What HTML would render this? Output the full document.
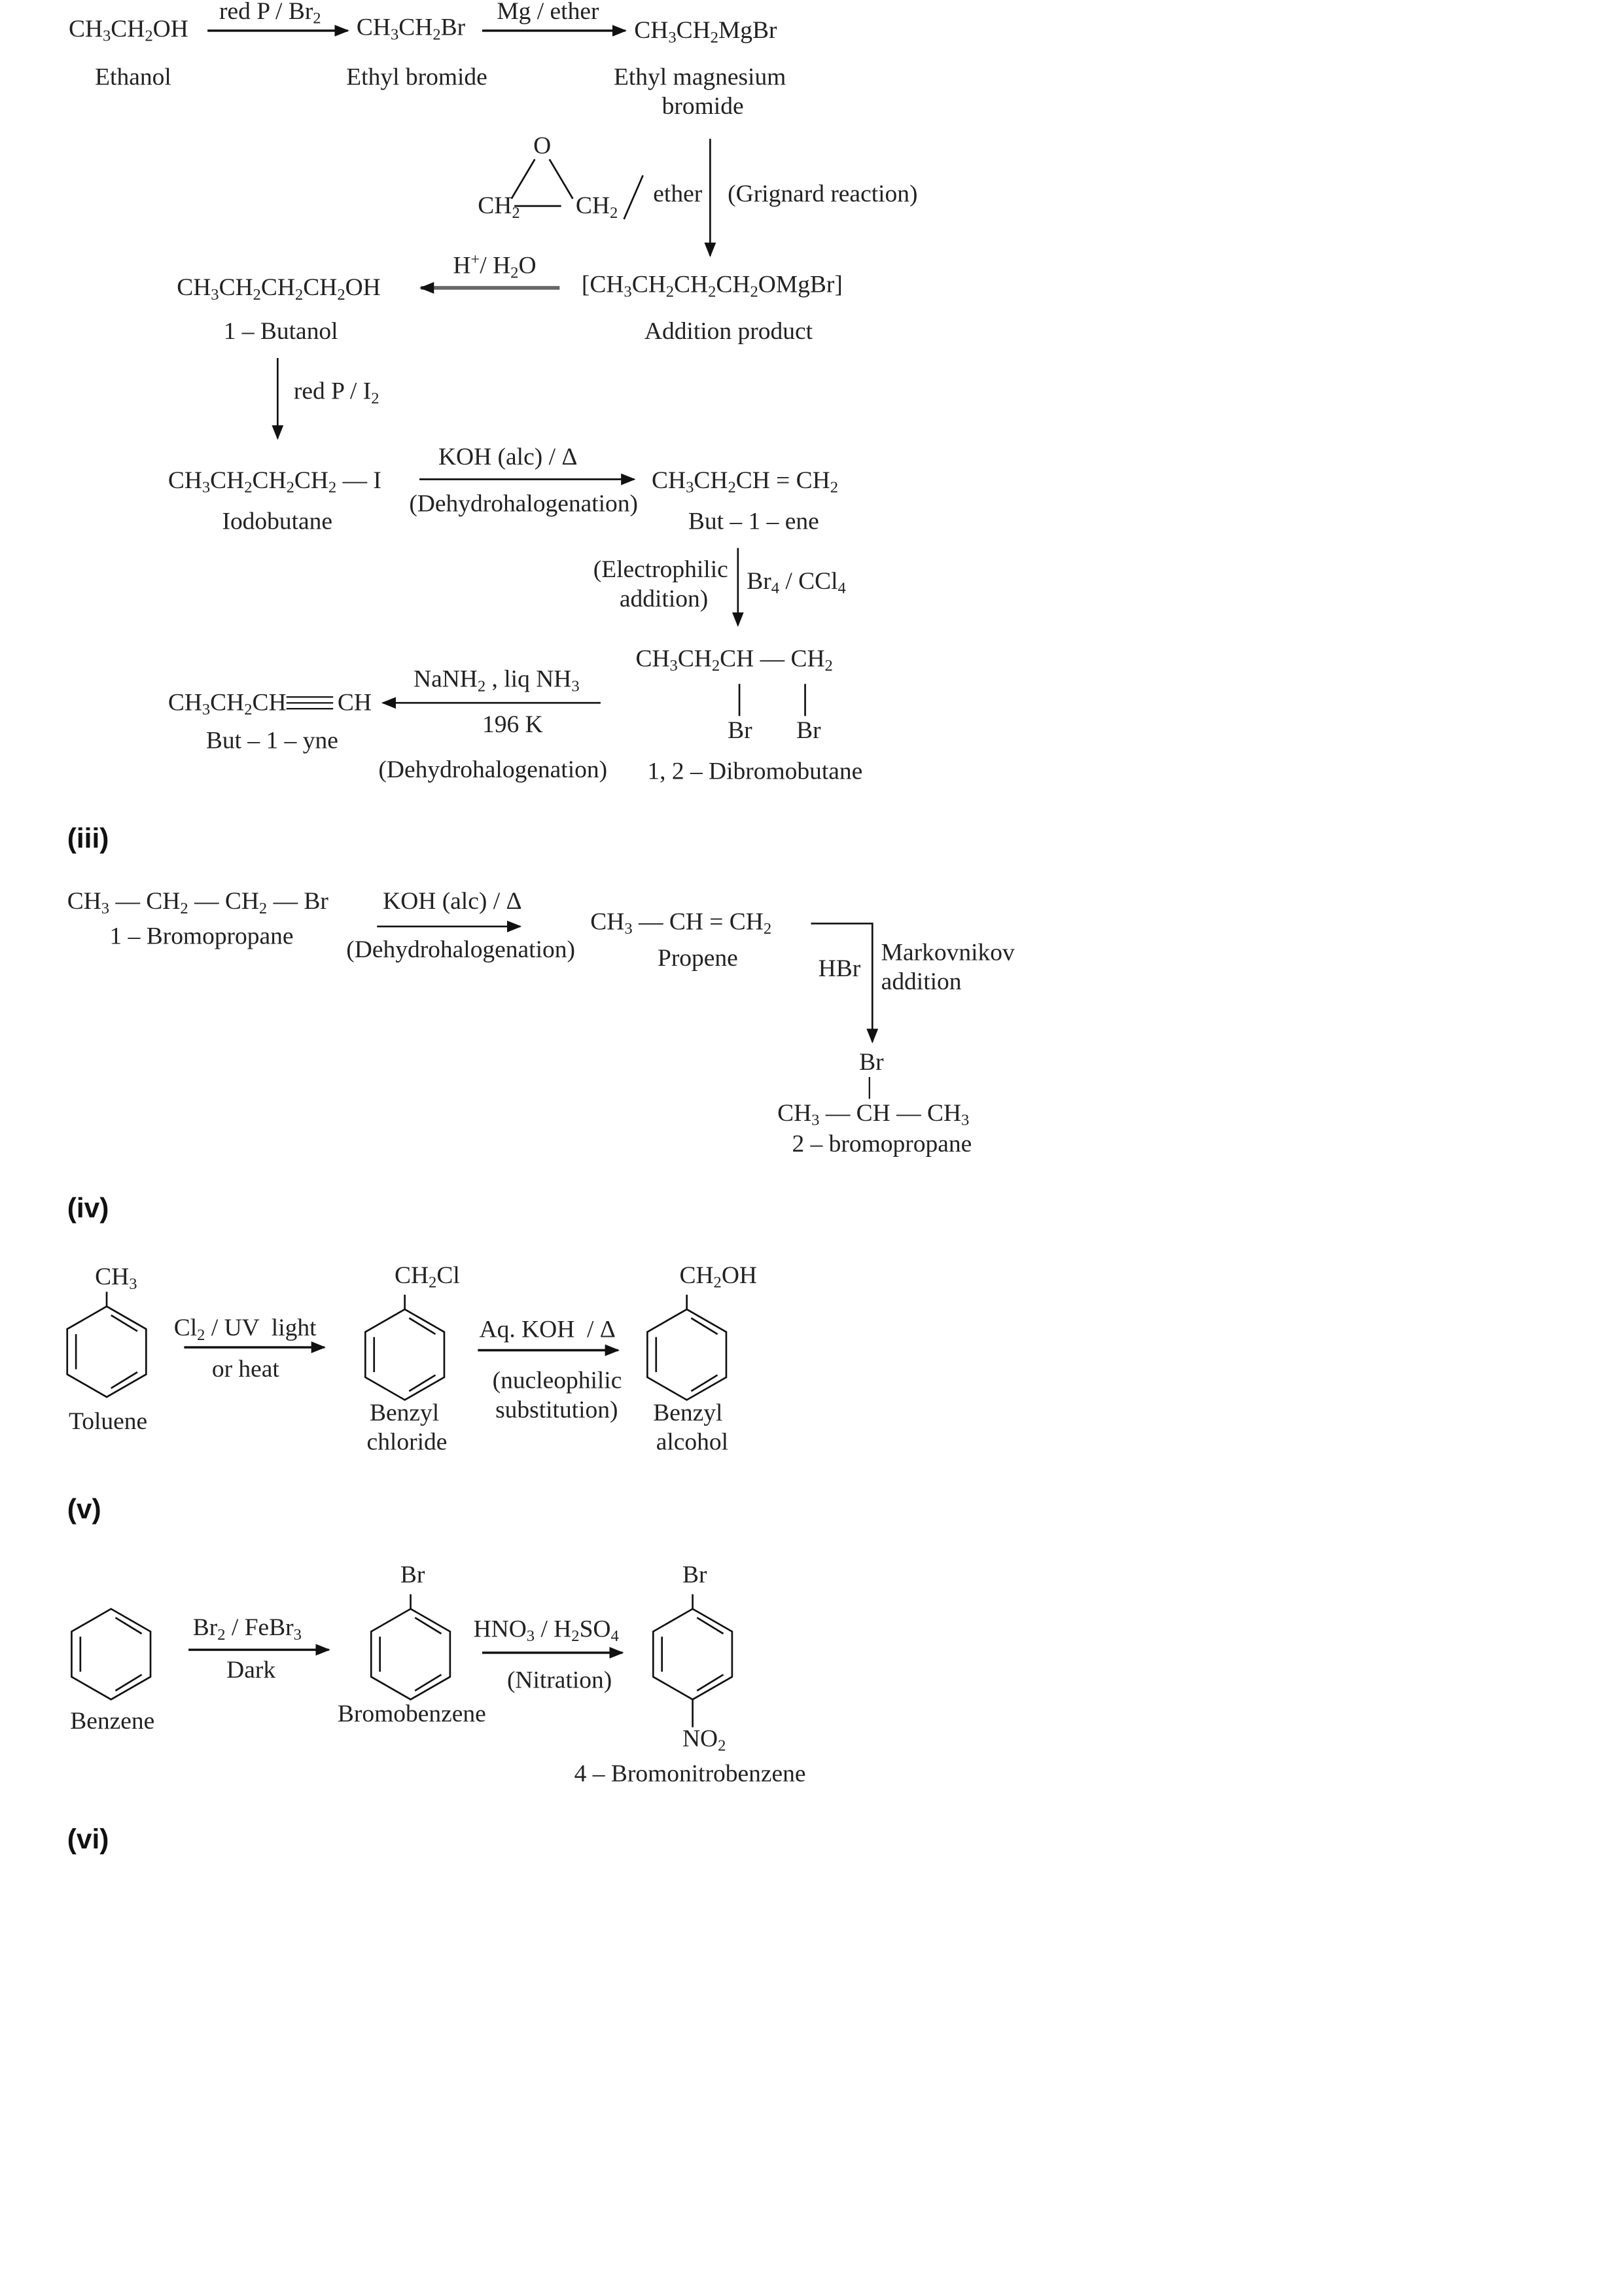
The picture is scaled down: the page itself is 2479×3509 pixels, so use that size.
<!DOCTYPE html>
<html><head><meta charset="utf-8">
<style>
html,body{margin:0;padding:0;background:#fff;}
body{width:2479px;height:3508px;overflow:hidden;}
#w{position:absolute;left:0;top:0;width:1110px;height:1571px;transform:scale(2.2333);transform-origin:0 0;}
.t{position:absolute;font-family:"Liberation Serif",serif;font-size:16.8px;line-height:1;color:#222;white-space:nowrap;margin-top:-1px;}
.t sub{font-size:11px;vertical-align:-3px;line-height:0;}
.t sup{font-size:11px;vertical-align:6px;line-height:0;}
.h{position:absolute;font-family:"Liberation Sans",sans-serif;font-weight:bold;font-size:19px;line-height:1;color:#111;}
svg{position:absolute;left:0;top:0;}
</style></head><body><div id="w">
<svg width="1110" height="1571" viewBox="0 0 1110 1571">
<defs><marker id="a" markerWidth="10" markerHeight="8" refX="9" refY="4" orient="auto" markerUnits="userSpaceOnUse"><path d="M0,0 L10,4 L0,8 z" fill="#111"/></marker></defs>
<g stroke="#111" stroke-width="1.6" fill="none">
<line x1="142" y1="21" x2="238" y2="21" marker-end="url(#a)"/>
<line x1="330" y1="21" x2="428" y2="21" marker-end="url(#a)"/>
<line x1="486" y1="95" x2="486" y2="175" stroke-width="1.2" marker-end="url(#a)"/>
<line x1="366" y1="109" x2="350" y2="136" stroke-width="1.2"/>
<line x1="376" y1="109" x2="392" y2="136" stroke-width="1.2"/>
<line x1="352" y1="141" x2="384" y2="141" stroke-width="1.2"/>
<line x1="440" y1="120" x2="427" y2="150" stroke-width="1.2"/>
<line x1="383" y1="197" x2="288" y2="197" stroke="#666" stroke-width="2.5" marker-end="url(#a)"/>
<line x1="190" y1="245" x2="190" y2="300" stroke-width="1.2" marker-end="url(#a)"/>
<line x1="287" y1="328" x2="434" y2="328" stroke-width="1.2" marker-end="url(#a)"/>
<line x1="505" y1="375" x2="505" y2="428" stroke-width="1.2" marker-end="url(#a)"/>
<line x1="506" y1="468" x2="506" y2="490" stroke-width="1.2"/>
<line x1="551" y1="468" x2="551" y2="490" stroke-width="1.2"/>
<line x1="411" y1="481" x2="262" y2="481" stroke-width="1.2" marker-end="url(#a)"/>
<line x1="196" y1="477" x2="228" y2="477" stroke-width="1"/>
<line x1="196" y1="481" x2="228" y2="481" stroke-width="1"/>
<line x1="196" y1="485" x2="228" y2="485" stroke-width="1"/>
<line x1="258" y1="634" x2="356" y2="634" stroke-width="1.2" marker-end="url(#a)"/>
<polyline points="555,632 597,632 597,713" stroke-width="1.2" marker-end="url(#a)"/>
<line x1="595" y1="737" x2="595" y2="752" stroke-width="1"/>
<line x1="73" y1="884" x2="73" y2="894" stroke-width="1.2"/>
<line x1="277" y1="886" x2="277" y2="896" stroke-width="1.2"/>
<line x1="470" y1="886" x2="470" y2="896" stroke-width="1.2"/>
<line x1="126" y1="922" x2="222" y2="922" stroke-width="1.6" marker-end="url(#a)"/>
<line x1="327" y1="924" x2="423" y2="924" stroke-width="1.6" marker-end="url(#a)"/>
<line x1="129" y1="1129" x2="225" y2="1129" stroke-width="1.6" marker-end="url(#a)"/>
<line x1="330" y1="1131" x2="426" y2="1131" stroke-width="1.6" marker-end="url(#a)"/>
<line x1="281" y1="1091" x2="281" y2="1101" stroke-width="1.2"/>
<line x1="474" y1="1091" x2="474" y2="1101" stroke-width="1.2"/>
<line x1="474" y1="1163" x2="474" y2="1182" stroke-width="1.2"/>
</g>
<g stroke="#111" stroke-width="1.2" fill="none">
<g transform="translate(73,925)"><polygon points="0,-31 27,-15.5 27,15.5 0,31 -27,15.5 -27,-15.5"/><line x1="-21" y1="-12" x2="-21" y2="12"/><line x1="3" y1="-25" x2="21" y2="-14"/><line x1="21" y1="14" x2="3" y2="25"/></g>
<g transform="translate(277,927)"><polygon points="0,-31 27,-15.5 27,15.5 0,31 -27,15.5 -27,-15.5"/><line x1="-21" y1="-12" x2="-21" y2="12"/><line x1="3" y1="-25" x2="21" y2="-14"/><line x1="21" y1="14" x2="3" y2="25"/></g>
<g transform="translate(470,927)"><polygon points="0,-31 27,-15.5 27,15.5 0,31 -27,15.5 -27,-15.5"/><line x1="-21" y1="-12" x2="-21" y2="12"/><line x1="3" y1="-25" x2="21" y2="-14"/><line x1="21" y1="14" x2="3" y2="25"/></g>
<g transform="translate(76,1132)"><polygon points="0,-31 27,-15.5 27,15.5 0,31 -27,15.5 -27,-15.5"/><line x1="-21" y1="-12" x2="-21" y2="12"/><line x1="3" y1="-25" x2="21" y2="-14"/><line x1="21" y1="14" x2="3" y2="25"/></g>
<g transform="translate(281,1132)"><polygon points="0,-31 27,-15.5 27,15.5 0,31 -27,15.5 -27,-15.5"/><line x1="-21" y1="-12" x2="-21" y2="12"/><line x1="3" y1="-25" x2="21" y2="-14"/><line x1="21" y1="14" x2="3" y2="25"/></g>
<g transform="translate(474,1132)"><polygon points="0,-31 27,-15.5 27,15.5 0,31 -27,15.5 -27,-15.5"/><line x1="-21" y1="-12" x2="-21" y2="12"/><line x1="3" y1="-25" x2="21" y2="-14"/><line x1="21" y1="14" x2="3" y2="25"/></g>
</g>
</svg>

<div class="t" style="left:47px;top:13px">CH<sub>3</sub>CH<sub>2</sub>OH</div>
<div class="t" style="left:150px;top:1px">red P / Br<sub>2</sub></div>
<div class="t" style="left:244px;top:12px">CH<sub>3</sub>CH<sub>2</sub>Br</div>
<div class="t" style="left:340px;top:1px">Mg / ether</div>
<div class="t" style="left:434px;top:14px">CH<sub>3</sub>CH<sub>2</sub>MgBr</div>
<div class="t" style="left:65px;top:46px">Ethanol</div>
<div class="t" style="left:237px;top:46px">Ethyl bromide</div>
<div class="t" style="left:420px;top:46px">Ethyl magnesium</div>
<div class="t" style="left:453px;top:66px">bromide</div>
<div class="t" style="left:365px;top:93px">O</div>
<div class="t" style="left:327px;top:134px">CH<sub>2</sub></div>
<div class="t" style="left:394px;top:134px">CH<sub>2</sub></div>
<div class="t" style="left:447px;top:126px">ether</div>
<div class="t" style="left:498px;top:126px">(Grignard reaction)</div>
<div class="t" style="left:310px;top:175px">H<sup>+</sup>/ H<sub>2</sub>O</div>
<div class="t" style="left:121px;top:190px">CH<sub>3</sub>CH<sub>2</sub>CH<sub>2</sub>CH<sub>2</sub>OH</div>
<div class="t" style="left:398px;top:188px">[CH<sub>3</sub>CH<sub>2</sub>CH<sub>2</sub>CH<sub>2</sub>OMgBr]</div>
<div class="t" style="left:153px;top:220px">1 – Butanol</div>
<div class="t" style="left:441px;top:220px">Addition product</div>
<div class="t" style="left:201px;top:261px">red P / I<sub>2</sub></div>
<div class="t" style="left:115px;top:322px">CH<sub>3</sub>CH<sub>2</sub>CH<sub>2</sub>CH<sub>2</sub> — I</div>
<div class="t" style="left:152px;top:350px">Iodobutane</div>
<div class="t" style="left:300px;top:306px">KOH (alc) / Δ</div>
<div class="t" style="left:280px;top:338px">(Dehydrohalogenation)</div>
<div class="t" style="left:446px;top:322px">CH<sub>3</sub>CH<sub>2</sub>CH = CH<sub>2</sub></div>
<div class="t" style="left:471px;top:350px">But – 1 – ene</div>
<div class="t" style="left:406px;top:383px">(Electrophilic</div>
<div class="t" style="left:424px;top:403px">addition)</div>
<div class="t" style="left:511px;top:391px">Br<sub>4</sub> / CCl<sub>4</sub></div>
<div class="t" style="left:435px;top:444px">CH<sub>3</sub>CH<sub>2</sub>CH — CH<sub>2</sub></div>
<div class="t" style="left:498px;top:493px">Br</div>
<div class="t" style="left:545px;top:493px">Br</div>
<div class="t" style="left:283px;top:458px">NaNH<sub>2</sub> , liq NH<sub>3</sub></div>
<div class="t" style="left:330px;top:489px">196 K</div>
<div class="t" style="left:259px;top:520px">(Dehydrohalogenation)</div>
<div class="t" style="left:443px;top:521px">1, 2 – Dibromobutane</div>
<div class="t" style="left:115px;top:474px">CH<sub>3</sub>CH<sub>2</sub>CH</div>
<div class="t" style="left:231px;top:474px">CH</div>
<div class="t" style="left:141px;top:500px">But – 1 – yne</div>
<div class="h" style="left:46px;top:565px">(iii)</div>

<div class="t" style="left:46px;top:610px">CH<sub>3</sub> — CH<sub>2</sub> — CH<sub>2</sub> — Br</div>
<div class="t" style="left:75px;top:634px">1 – Bromopropane</div>
<div class="t" style="left:262px;top:610px">KOH (alc) / Δ</div>
<div class="t" style="left:237px;top:643px">(Dehydrohalogenation)</div>
<div class="t" style="left:404px;top:624px">CH<sub>3</sub> — CH = CH<sub>2</sub></div>
<div class="t" style="left:450px;top:649px">Propene</div>
<div class="t" style="left:560px;top:656px">HBr</div>
<div class="t" style="left:603px;top:645px">Markovnikov</div>
<div class="t" style="left:603px;top:665px">addition</div>
<div class="t" style="left:588px;top:720px">Br</div>
<div class="t" style="left:532px;top:755px">CH<sub>3</sub> — CH — CH<sub>3</sub></div>
<div class="t" style="left:542px;top:776px">2 – bromopropane</div>
<div class="h" style="left:46px;top:818px">(iv)</div>

<div class="t" style="left:65px;top:867px">CH<sub>3</sub></div>
<div class="t" style="left:47px;top:966px">Toluene</div>
<div class="t" style="left:119px;top:902px">Cl<sub>2</sub> / UV &nbsp;light</div>
<div class="t" style="left:145px;top:930px">or heat</div>
<div class="t" style="left:270px;top:866px">CH<sub>2</sub>Cl</div>
<div class="t" style="left:253px;top:960px">Benzyl</div>
<div class="t" style="left:251px;top:980px">chloride</div>
<div class="t" style="left:328px;top:903px">Aq. KOH &nbsp;/ Δ</div>
<div class="t" style="left:337px;top:938px">(nucleophilic</div>
<div class="t" style="left:339px;top:958px">substitution)</div>
<div class="t" style="left:465px;top:866px">CH<sub>2</sub>OH</div>
<div class="t" style="left:447px;top:960px">Benzyl</div>
<div class="t" style="left:449px;top:980px">alcohol</div>
<div class="h" style="left:46px;top:1024px">(v)</div>

<div class="t" style="left:48px;top:1171px">Benzene</div>
<div class="t" style="left:132px;top:1107px">Br<sub>2</sub> / FeBr<sub>3</sub></div>
<div class="t" style="left:155px;top:1136px">Dark</div>
<div class="t" style="left:274px;top:1071px">Br</div>
<div class="t" style="left:231px;top:1166px">Bromobenzene</div>
<div class="t" style="left:324px;top:1108px">HNO<sub>3</sub> / H<sub>2</sub>SO<sub>4</sub></div>
<div class="t" style="left:347px;top:1143px">(Nitration)</div>
<div class="t" style="left:467px;top:1071px">Br</div>
<div class="t" style="left:467px;top:1183px">NO<sub>2</sub></div>
<div class="t" style="left:393px;top:1207px">4 – Bromonitrobenzene</div>
<div class="h" style="left:46px;top:1250px">(vi)</div>
</div></body></html>
